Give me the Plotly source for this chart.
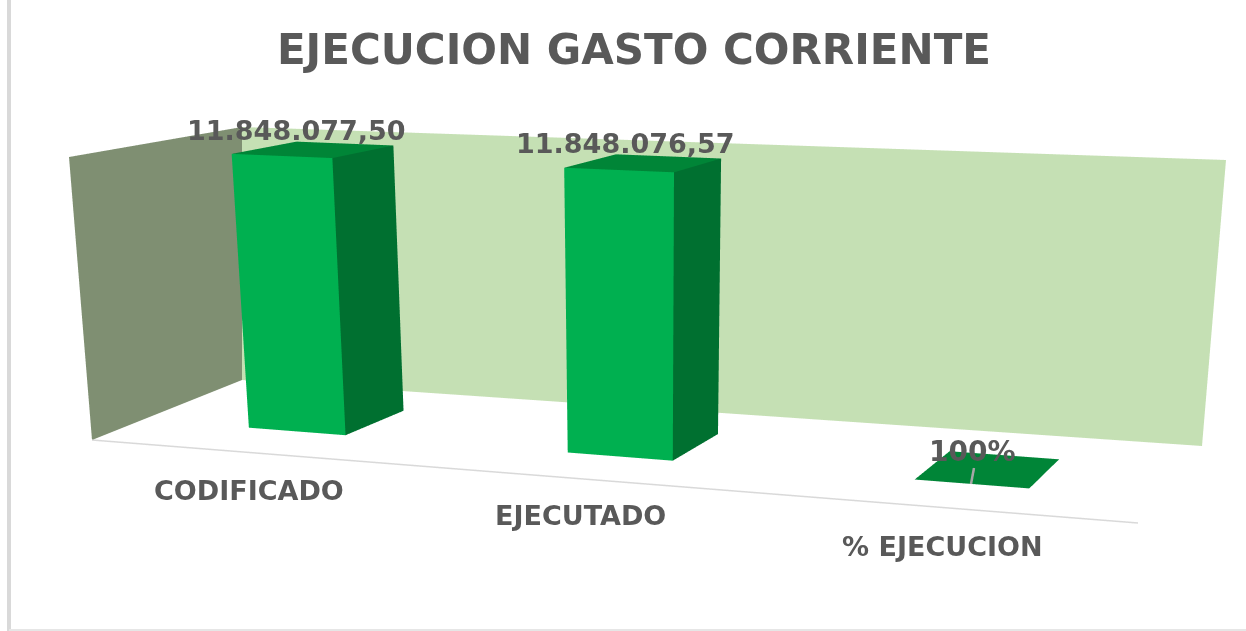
import plotly.graph_objects as go

# ---- data ----
categories = ["CODIFICADO", "EJECUTADO", "% EJECUCION"]
values = [11848077.50, 11848076.57, 1]
value_labels = ["11.848.077,50", "11.848.076,57", "100%"]
title_text = "EJECUCION GASTO CORRIENTE"

# ---- scene geometry (u: category axis, w: depth, v: value / reference) ----
V = values[0]
BAR_W = 0.312
TX = (0.89015, 0.11659, -0.03824, -1.06685)   # scene x from (u, w, v, 1)
TY = (0.00000, 0.12486, 0.28620, 1.54397)     # scene y from (u, w, v, 1)
RANGE_X = [-2.07857, 1.55108]
RANGE_Y = [1.41215, 2.11530]
RANGE_V = [-0.38709, 1.11724]
ASPECT = dict(x=3.62965, y=0.70316, z=1.02647)
CAMERA = dict(eye=dict(x=0.26374, y=-1.76372, z=1.06323),
              center=dict(x=0.16837, y=-0.90022, z=0.56798),
              up=dict(x=-0.05966, y=0.49166, z=0.86874),
              projection=dict(type="perspective"))
WALL_W = 2.0
BACK_WALL = [(-0.5471, 0.9965), (2.4896, 1.0120), (2.4929, -0.0184), (-0.6034, -0.0286)]
SIDE_WALL = [(-1.1767, 0.8500), (-0.5471, 0.9965), (-0.6034, -0.0286), (-1.1836, -0.3371)]
AXIS_LINE = [(-0.4884, -0.7998, 0), (2.4955, -0.7478, 0)]
LEADER = [(2.0219, -0.2, 0.0785), (2.0161, -0.2, 0.0226)]
VALUE_LABEL_POS = [(-0.0535, 1.0672), (0.9448, 1.0658), (1.9553, 0.0575)]
CATEGORY_LABEL_POS = [(-0.2773, -0.3056), (0.8045, -0.2956), (1.8842, -0.2918)]
LABEL_W = 0.5

# ---- colours ----
C_FRONT, C_TOP, C_SIDE = "#00B050", "#008537", "#007030"
C_BACK, C_WALL = "#C5E0B4", "#7F8F72"
C_TEXT, C_AXIS, C_LEADER, C_BORDER = "#595959", "#D9D9D9", "#A6A6A6", "#D9D9D9"
FONT = "DejaVu Sans"


def sx(u, w, v):
    return TX[0] * u + TX[1] * w + TX[2] * v + TX[3]


def sy(u, w, v):
    return TY[0] * u + TY[1] * w + TY[2] * v + TY[3]


fig = go.Figure()
FLAT = dict(ambient=1, diffuse=0, specular=0, fresnel=0, roughness=1)


def quad(pts, colour):
    fig.add_trace(go.Mesh3d(
        x=[sx(*p) for p in pts], y=[sy(*p) for p in pts], z=[p[2] * V for p in pts],
        i=[0, 0], j=[1, 2], k=[2, 3], color=colour, flatshading=True,
        lighting=FLAT, hoverinfo="skip", showscale=False))


def path(pts, colour, width):
    fig.add_trace(go.Scatter3d(
        x=[sx(*p) for p in pts], y=[sy(*p) for p in pts], z=[p[2] * V for p in pts],
        mode="lines", line=dict(color=colour, width=width), hoverinfo="skip"))


quad([(u, WALL_W, v) for u, v in BACK_WALL], C_BACK)
quad([(u, WALL_W, v) for u, v in SIDE_WALL], C_WALL)

for k, val in enumerate(values):
    v = val / V
    a, b = k - BAR_W / 2, k + BAR_W / 2
    quad([(a, 0, 0), (b, 0, 0), (b, 0, v), (a, 0, v)], C_FRONT)
    quad([(b, 0, 0), (b, 1, 0), (b, 1, v), (b, 0, v)], C_SIDE)
    quad([(a, 0, v), (b, 0, v), (b, 1, v), (a, 1, v)], C_TOP)

path(AXIS_LINE, C_AXIS, 3)
path(LEADER, C_LEADER, 5)


def label(text, pos, size):
    u, v = pos
    return dict(x=sx(u, LABEL_W, v), y=sy(u, LABEL_W, v), z=v * V, text=text, showarrow=False,
                xanchor="center", yanchor="middle",
                font=dict(family=FONT, size=size, color=C_TEXT, weight="bold"))


scene_labels = [label(t, p, 27) for t, p in zip(value_labels[:2], VALUE_LABEL_POS[:2])]
scene_labels += [label(value_labels[2], VALUE_LABEL_POS[2], 28)]
scene_labels += [label(t, p, 27) for t, p in zip(categories, CATEGORY_LABEL_POS)]
hidden = dict(visible=False)

fig.update_layout(
    width=1246, height=631, margin=dict(l=0, r=0, t=0, b=0),
    paper_bgcolor="white", showlegend=False,
    title=dict(text=f"<b>{title_text}</b>", x=0.5088, y=0.922, xanchor="center", yanchor="middle",
               font=dict(family=FONT, size=42, color=C_TEXT)),
    scene=dict(
        domain=dict(x=[0, 1], y=[0, 1]), aspectmode="manual", aspectratio=ASPECT,
        xaxis=dict(hidden, range=RANGE_X), yaxis=dict(hidden, range=RANGE_Y),
        zaxis=dict(hidden, range=[RANGE_V[0] * V, RANGE_V[1] * V]),
        camera=CAMERA, dragmode="orbit", annotations=scene_labels),
    shapes=[
        dict(type="line", xref="paper", yref="paper", x0=9 / 1246, x1=9 / 1246, y0=0, y1=1,
             line=dict(color=C_BORDER, width=4)),
        dict(type="line", xref="paper", yref="paper", x0=9 / 1246, x1=1, y0=1 / 631, y1=1 / 631,
             line=dict(color="#E6E6E6", width=2)),
    ])

fig.write_html("out.html", config=dict(displayModeBar=False),
               post_script="document.body.style.margin='0';document.body.style.overflow='hidden';")
